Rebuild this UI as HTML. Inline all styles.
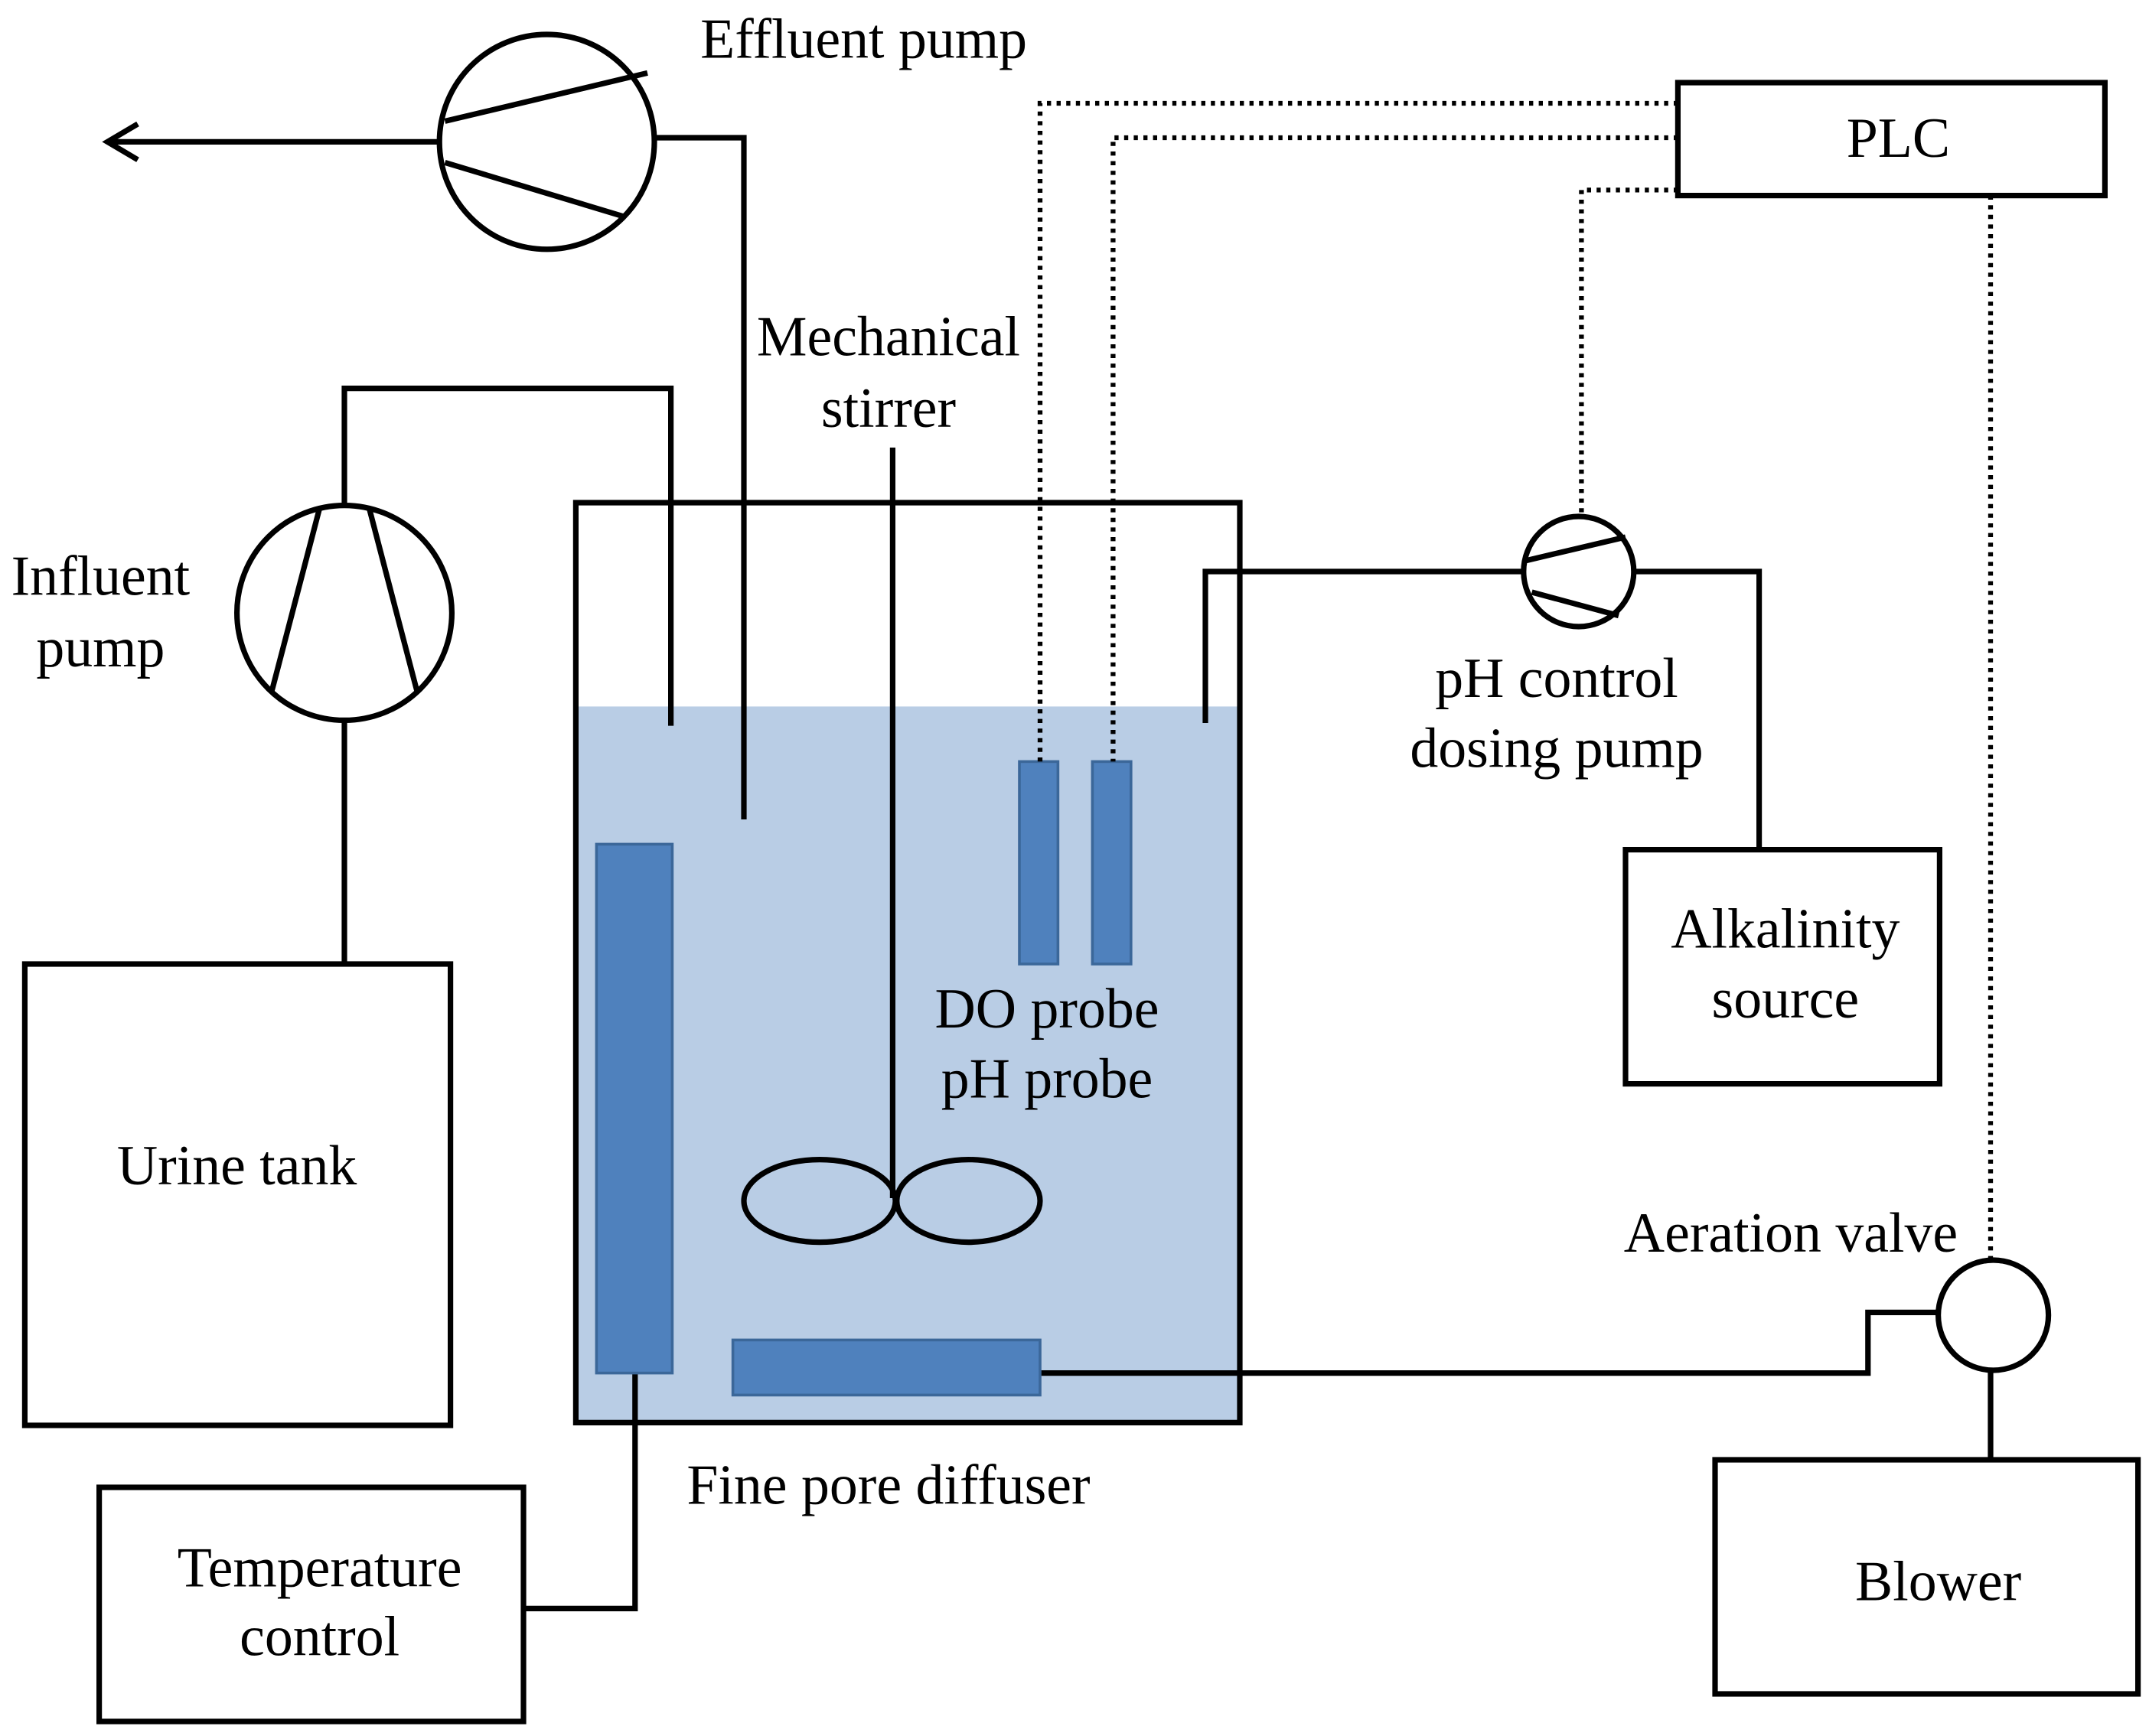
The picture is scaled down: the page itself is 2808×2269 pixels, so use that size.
<!DOCTYPE html>
<html><head><meta charset="utf-8"><style>
html,body{margin:0;padding:0;background:#fff;}
svg{display:block;}
text{font-family:"Liberation Serif",serif;font-size:41px;fill:#000;}
</style></head><body>
<svg width="2808" height="2269" viewBox="0 0 1560 1260.56" xmlns="http://www.w3.org/2000/svg">
<g fill="none" stroke="#000" stroke-width="4">
<rect x="418" y="513" width="482" height="520" fill="#b9cde5" stroke="none"/>
<path d="M418,1033 V365 H900 V1033 Z"/>
<circle cx="397" cy="103" r="78" fill="#fff"/>
<line x1="323" y1="88" x2="470" y2="53"/>
<line x1="323" y1="118" x2="452" y2="157"/>
<line x1="80" y1="103" x2="319" y2="103"/>
<path d="M100,90 L78,103 L100,116"/>
<path d="M475,100 H540 V595"/>
<circle cx="250" cy="445" r="78" fill="#fff"/>
<line x1="232" y1="369" x2="197" y2="503"/>
<line x1="268" y1="369" x2="303" y2="503"/>
<path d="M250,367 V282 H487 V527"/>
<line x1="250" y1="523" x2="250" y2="700"/>
<rect x="18" y="700" width="309" height="335"/>
<line x1="648" y1="325" x2="648" y2="870"/>
<ellipse cx="595" cy="872" rx="55" ry="30"/>
<ellipse cx="703" cy="872" rx="52" ry="30"/>
<path d="M461,997 V1168 H380"/>
<rect x="72" y="1080" width="308" height="170"/>
<circle cx="1146" cy="415" r="40" fill="#fff"/>
<line x1="1108" y1="407" x2="1180" y2="390"/>
<line x1="1112" y1="430" x2="1175" y2="447"/>
<path d="M875,525 V415 H1106"/>
<path d="M1186,415 H1277 V617"/>
<rect x="1180" y="617" width="228" height="170"/>
<rect x="1218" y="60" width="310" height="82"/>
<path d="M755,997 H1356 V953 H1407"/>
<circle cx="1447" cy="955" r="40" fill="#fff"/>
<line x1="1445" y1="995" x2="1445" y2="1060"/>
<rect x="1245" y="1060" width="307" height="170"/>
</g>
<g fill="#4f81bd" stroke="#3b6799" stroke-width="2">
<rect x="433" y="613" width="55" height="384"/>
<rect x="740" y="553" width="28" height="147"/>
<rect x="793" y="553" width="28" height="147"/>
<rect x="532" y="973" width="223" height="40"/>
</g>
<g fill="none" stroke="#000" stroke-width="3.5" stroke-dasharray="3,4">
<path d="M1218,75 H755 V553"/>
<path d="M1218,100 H808 V553"/>
<path d="M1218,138 H1148 V375"/>
<path d="M1445,142 V915"/>
</g>
<g text-anchor="middle">
<text x="627" y="42">Effluent pump</text>
<text x="1378" y="114">PLC</text>
<text x="645" y="258">Mechanical</text>
<text x="645" y="310">stirrer</text>
<text x="73" y="432">Influent</text>
<text x="73" y="484">pump</text>
<text x="1130" y="506">pH control</text>
<text x="1130" y="557">dosing pump</text>
<text x="1296" y="688">Alkalinity</text>
<text x="1296" y="739">source</text>
<text x="760" y="746">DO probe</text>
<text x="760" y="797">pH probe</text>
<text x="172" y="860">Urine tank</text>
<text x="1300" y="909">Aeration valve</text>
<text x="645" y="1092">Fine pore diffuser</text>
<text x="232" y="1152">Temperature</text>
<text x="232" y="1202">control</text>
<text x="1407" y="1162">Blower</text>
</g>
</svg>
</body></html>
